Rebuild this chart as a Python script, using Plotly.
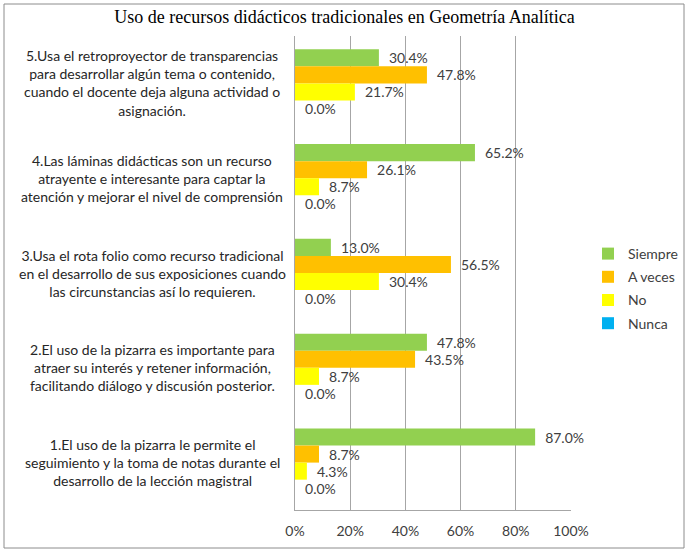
import plotly.graph_objects as go

categories = ["q1", "q2", "q3", "q4", "q5"]
cat_labels = [
    "1.El uso de la pizarra le permite el<br>seguimiento y la toma de notas durante el<br>desarrollo de la lección magistral",
    "2.El uso de la pizarra es importante para<br>atraer su interés y retener información,<br>facilitando diálogo y discusión posterior.",
    "3.Usa el rota folio como recurso tradicional<br>en el desarrollo de sus exposiciones cuando<br>las circunstancias así lo requieren.",
    "4.Las láminas didácticas son un recurso<br>atrayente e interesante para captar la<br>atención y mejorar el nivel de comprensión",
    "5.Usa el retroproyector de transparencias<br>para desarrollar algún tema o contenido,<br>cuando el docente deja alguna actividad o<br>asignación.",
]
siempre = [87.0, 47.8, 13.0, 65.2, 30.4]
a_veces = [8.7, 43.5, 56.5, 26.1, 47.8]
no = [4.3, 8.7, 30.4, 8.7, 21.7]
nunca = [0.0, 0.0, 0.0, 0.0, 0.0]

series = [
    ("Siempre", siempre, "#92D050"),
    ("A veces", a_veces, "#FFC000"),
    ("No", no, "#FFFF00"),
    ("Nunca", nunca, "#00B0F0"),
]

W, H = 689, 553
L, R, T, B = 295, 118, 36, 43
pw, ph = W - L - R, H - T - B
FONT = "Lato, Carlito, sans-serif"

fig = go.Figure()
for name, vals, color in series:
    fig.add_trace(go.Bar(
        y=categories, x=[v / 100 for v in vals], name=name, orientation="h",
        legendgroup=name,
        marker=dict(color=color, line=dict(width=0)),
        text=[f"\u2002{v:.1f}%" for v in vals], textposition="outside",
        textfont=dict(family=FONT, size=14, color="#404040"),
        constraintext="none", cliponaxis=False,
    ))

annotations = []
for c, lab in zip(categories, cat_labels):
    annotations.append(dict(
        x=(152 - L) / pw, xref="paper", y=categories[::-1].index(c), yref="y",
        text=lab, showarrow=False,
        xanchor="center", yanchor="middle", align="center",
        font=dict(family=FONT, size=14, color="#262626"),
    ))

fig.update_layout(
    width=W, height=H,
    margin=dict(l=L, r=R, t=T, b=B, autoexpand=False),
    paper_bgcolor="white", plot_bgcolor="white",
    barmode="group", bargap=0.28, bargroupgap=0,
    title=dict(text="Uso de recursos didácticos tradicionales en Geometría Analítica",
               x=0.5, xanchor="center", y=1 - 17 / H, yanchor="middle",
               font=dict(family="Liberation Serif, Times New Roman, serif", size=18, color="#000")),
    xaxis=dict(range=[0, 1], tickvals=[0, 0.2, 0.4, 0.6, 0.8, 1.0], tickformat=".0%",
               showgrid=True, gridcolor="#A6A6A6", gridwidth=1,
               showline=True, linecolor="#A6A6A6", zeroline=False,
               tickfont=dict(family=FONT, size=14, color="#404040"),
               ticks="outside", ticklen=8, tickcolor="rgba(0,0,0,0)", automargin=False),
    yaxis=dict(showticklabels=False, showgrid=False, showline=True, linecolor="#A6A6A6",
               zeroline=False, ticks="", categoryorder="array",
               categoryarray=categories[::-1], autorange="reversed",
               automargin=False),
    legend=dict(x=(588 - L) / pw, y=(H - B - 238) / ph, xanchor="left", yanchor="top",
                traceorder="grouped", itemwidth=30, tracegroupgap=2,
                font=dict(family=FONT, size=14, color="#404040")),
    annotations=annotations,
    shapes=[dict(type="rect", xref="paper", yref="paper",
                 x0=(4 - L) / pw, x1=(684 - L) / pw,
                 y0=-(548 - (H - B)) / ph, y1=(H - B - 4) / ph,
                 line=dict(color="#8C8C8C", width=1), fillcolor="rgba(0,0,0,0)")],
)

fig.write_html("out.html")
